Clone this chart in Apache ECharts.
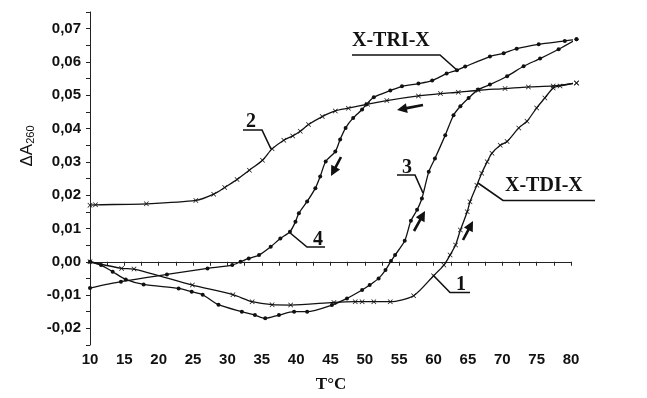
<!DOCTYPE html>
<html><head><meta charset="utf-8">
<script src="https://cdn.jsdelivr.net/npm/echarts@6/dist/echarts.min.js"></script>
<style>html,body{margin:0;padding:0;background:#fff}#c{width:647px;height:398px}</style>
</head><body><div id="c"></div>
<script>
// Curve 1: X-TDI-X heating (crosses)
const curve1 = [[10,0.000],[14.6,-0.002],[16.4,-0.0022],[24.9,-0.007],[30.8,-0.0099],[33.6,-0.012],[36.5,-0.0129],[39.2,-0.013],[45.5,-0.0122],[48.6,-0.012],[49.6,-0.012],[51.3,-0.012],[53.7,-0.012],[57.1,-0.0102],[60,-0.0042],[61.5,-0.001],[62.4,0.002],[63.2,0.005],[63.9,0.0095],[64.9,0.015],[65.3,0.018],[66.3,0.023],[67,0.0266],[67.8,0.030],[68.5,0.0326],[69.7,0.035],[70.7,0.0361],[72.4,0.0402],[73.6,0.0422],[75.0,0.0462],[76.2,0.0492],[77.4,0.0522],[78.4,0.0528],[80.8,0.0537]];
// Curve 2: X-TDI-X cooling (crosses)
const curve2 = [[10,0.017],[10.8,0.0171],[18.2,0.0174],[25.4,0.0184],[28,0.0203],[29.6,0.0223],[31.4,0.0247],[33.2,0.0275],[35.1,0.0305],[36.5,0.0339],[38.2,0.0365],[39.5,0.0378],[40.6,0.0392],[41.8,0.0412],[43.8,0.0436],[45.7,0.0453],[47.6,0.0461],[50.4,0.0473],[53.2,0.0484],[57.8,0.0498],[61,0.0505],[63.6,0.0509],[66.5,0.0515],[70.4,0.052],[73.8,0.0525],[77.4,0.0528],[80.8,0.0537]];
// Curve 3: X-TRI-X heating (dots)
const curve3 = [[10,0.000],[11.6,-0.001],[13.3,-0.003],[15.2,-0.0053],[17.8,-0.0068],[22.9,-0.008],[24.8,-0.009],[26.4,-0.0099],[28.7,-0.0129],[32.1,-0.015],[34.0,-0.016],[35.5,-0.017],[37.5,-0.016],[39.7,-0.015],[41.6,-0.015],[45.2,-0.013],[47.4,-0.011],[49.6,-0.0085],[50.7,-0.007],[52,-0.005],[53,-0.0025],[53.8,0.0002],[54.4,0.002],[55.8,0.0063],[56.7,0.0123],[57.6,0.0156],[58.3,0.019],[59.3,0.027],[60.2,0.031],[61.7,0.038],[62.9,0.044],[63.9,0.0467],[65.1,0.0492],[66.5,0.0517],[68.2,0.0532],[70.7,0.0557],[73.1,0.0587],[75.5,0.061],[78.2,0.0638],[80.8,0.0668]];
// Curve 4: X-TRI-X cooling (dots)
const curve4 = [[10,-0.0079],[14.5,-0.006],[21.2,-0.0038],[27.1,-0.002],[30.7,-0.001],[31.9,0.000],[33.1,0.001],[34.6,0.002],[36.3,0.0045],[37.7,0.007],[39.1,0.009],[39.9,0.012],[40.4,0.0146],[41.6,0.0181],[42.8,0.0221],[43.5,0.0256],[44.3,0.0301],[45.7,0.0331],[46.4,0.0367],[47.2,0.0402],[48.3,0.0432],[49.6,0.0457],[50.2,0.0472],[51.3,0.0494],[53.7,0.0514],[55.4,0.0527],[57.8,0.0535],[59.8,0.0544],[61.9,0.0565],[63.4,0.0575],[64.6,0.0586],[68.2,0.0616],[70.2,0.0626],[72.1,0.064],[75.3,0.0653],[79.1,0.0663],[80.8,0.0668]];

const xTickLabels = ['10','15','20','25','30','35','40','45','50','55','60','65','70','75','80'];
const yTickLabels = ['-0,02','-0,01','0,00','0,01','0,02','0,03','0,04','0,05','0,06','0,07'];

const crossPath = 'path://M0,1L1,0L5,4L9,0L10,1L6,5L10,9L9,10L5,6L1,10L0,9L4,5Z';
const tickFont = {fontFamily:'Liberation Sans, Arial, sans-serif', fontWeight:'bold', fontSize:15, color:'#111'};

function fmtY(v){
  const s = (Math.round(v*1000)/1000).toFixed(2).replace('.',',');
  const t = s === '-0,00' ? '0,00' : s;
  return (Math.round(v*1000)%10===0 && yTickLabels.indexOf(t)>=0) ? t : '';
}
function fmtX(v){
  const s = String(Math.round(v*10)/10);
  return xTickLabels.indexOf(s)>=0 ? s : '';
}

function mkSeries(data, sym, size){
  return {type:'line', data:data, smooth:0.25, showSymbol:true, symbol:sym, symbolSize:size, clip:false,
    lineStyle:{color:'#111', width:1.3}, itemStyle:{color:'#111'}, animation:false, z:3};
}

function arrow(x1,y1,x2,y2){
  const dx=x2-x1, dy=y2-y1, L=Math.sqrt(dx*dx+dy*dy);
  const ux=dx/L, uy=dy/L, px=-uy, py=ux;
  const hl=10, hw=5, sw=1.3;
  const bx=x2-ux*hl, by=y2-uy*hl;
  return {type:'polygon', shape:{points:[
    [x1+px*sw,y1+py*sw],[bx+px*sw,by+py*sw],[bx+px*hw,by+py*hw],[x2,y2],
    [bx-px*hw,by-py*hw],[bx-px*sw,by-py*sw],[x1-px*sw,y1-py*sw]]},
    style:{fill:'#111'}, z:10};
}
function leader(pts){
  return {type:'polyline', shape:{points:pts}, style:{stroke:'#111', lineWidth:1.6, fill:null}, z:10};
}
function label(txt,x,y,align,size){
  return {type:'text', x:x, y:y, style:{text:txt, fill:'#111', font:'bold '+(size||20)+'px "Liberation Serif", "Times New Roman", serif', textAlign:align||'left', textVerticalAlign:'middle'}, z:10};
}

const chart = echarts.init(document.getElementById('c'), null, {renderer:'canvas'});
chart.setOption({
  backgroundColor:'#fff',
  animation:false,
  grid:{left:90, right:76, top:12, bottom:53},
  xAxis:{type:'value', min:10, max:80, interval:2.5,
    axisLine:{lineStyle:{color:'#222', width:1}},
    axisTick:{show:true, length:4, lineStyle:{color:'#222'}},
    splitLine:{show:false},
    axisLabel:Object.assign({margin:7, formatter:fmtX, showMinLabel:true, showMaxLabel:true}, tickFont)},
  yAxis:{type:'value', min:-0.025, max:0.075, interval:0.005,
    axisLine:{show:true, lineStyle:{color:'#222', width:1}},
    axisTick:{show:true, length:4, lineStyle:{color:'#222'}},
    splitLine:{show:false},
    axisLabel:Object.assign({margin:9, formatter:fmtY}, tickFont)},
  series:[
    mkSeries(curve1, crossPath, 5),
    mkSeries(curve2, crossPath, 5),
    mkSeries(curve3, 'circle', 4),
    mkSeries(curve4, 'circle', 4)
  ],
  graphic:[
    {type:'text', x:26, y:146, rotation:Math.PI/2,
      style:{text:'{a|ΔA}{s|260}', textAlign:'center', textVerticalAlign:'middle',
        rich:{a:{fontFamily:'Liberation Sans, Arial, sans-serif', fontSize:17, fill:'#111', lineHeight:20, verticalAlign:'bottom'},
              s:{fontFamily:'Liberation Sans, Arial, sans-serif', fontSize:11, fill:'#111', lineHeight:14, verticalAlign:'bottom'}}}},
    label('T°C', 331, 385, 'center', 17),
    label('X-TRI-X', 352, 41, 'left', 20),
    leader([[352,55],[440,55],[458,71]]),
    label('X-TDI-X', 505, 186, 'left', 20),
    leader([[595,200.5],[503,200.5],[478,183]]),
    label('1', 461, 285, 'center', 20),
    leader([[470,292.5],[450,292.5],[433,275]]),
    label('2', 251, 122, 'center', 20),
    leader([[243,130],[262,130],[271,149]]),
    label('3', 407, 168, 'center', 20),
    leader([[397,175],[415,175],[423,193]]),
    label('4', 318, 240, 'center', 20),
    leader([[325,247],[307,247],[289,232]]),
    arrow(423,105,397,110),
    arrow(341,157,331,176),
    arrow(414,231,425,211),
    arrow(463,240,473,221)
  ]
});
</script>
</body></html>
